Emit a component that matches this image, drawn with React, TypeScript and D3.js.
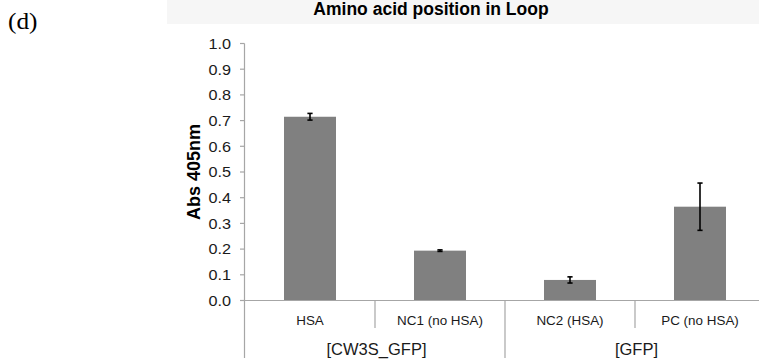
import React from "react";
import * as d3 from "d3";

const categories = ["HSA", "NC1 (no HSA)", "NC2 (HSA)", "PC (no HSA)"];
const values = [0.715, 0.194, 0.08, 0.365];
const errors = [0.013, 0.003, 0.012, 0.092];
const groupNames = ["[CW3S_GFP]", "[GFP]"];
const groupSizes = [2, 2];
const yTicks = [0, 0.1, 0.2, 0.3, 0.4, 0.5, 0.6, 0.7, 0.8, 0.9, 1.0];
const titleText = "Amino acid position in Loop";
const yTitle = "Abs 405nm";
const panelLabel = "(d)";

export default function App() {
  const W = 759;
  const H = 359;
  const axisX = 244.5;
  const x = d3.scaleBand<string>().domain(categories).range([245, 765]).paddingInner(0).paddingOuter(0);
  const y = d3.scaleLinear().domain([0, 1]).range([300.5, 43.5]);
  const bw = x.bandwidth();
  const barW = bw * 0.4;
  const fmt = d3.format(".1f");
  const axisColor = "#a6a6a6";
  const textColor = "#1a1a1a";
  const font = "Arial, 'Liberation Sans', sans-serif";

  const groupStarts: number[] = [];
  let acc = 0;
  groupSizes.forEach((s) => {
    groupStarts.push(acc);
    acc += s;
  });

  const boundaries: { x: number; full: boolean }[] = [];
  for (let i = 1; i < categories.length; i++) {
    const xb = x(categories[i]) as number;
    const full = groupStarts.includes(i);
    boundaries.push({ x: xb, full });
  }

  return (
    <svg width={W} height={H} style={{ position: "absolute", left: 0, top: 0 }} xmlns="http://www.w3.org/2000/svg">
      <rect x={0} y={0} width={W} height={H} fill="#ffffff" />
      <rect x={167} y={0} width={W - 167} height={24} fill="#f6f6f6" />
      <text x={431} y={15} textAnchor="middle" fontFamily={font} fontWeight="bold" fontSize={17.5} fill="#000">
        {titleText}
      </text>
      <text transform="translate(8,28.5) scale(1.1,1)" fontFamily="'Liberation Serif', 'Times New Roman', serif" fontSize={23} fill="#000">
        {panelLabel}
      </text>

      <text
        transform={`translate(200,${(y(0) + y(1)) / 2}) rotate(-90)`}
        textAnchor="middle"
        fontFamily={font}
        fontWeight="bold"
        fontSize={18}
        fill="#000"
      >
        {yTitle}
      </text>

      {categories.map((c, i) => {
        const bx = (x(c) as number) + (bw - barW) / 2;
        return <rect key={c} x={bx} y={y(values[i])} width={barW} height={y(0) - y(values[i])} fill="#808080" />;
      })}

      <line x1={axisX} x2={axisX} y1={y(1)} y2={358} stroke={axisColor} strokeWidth={1.2} />
      <line x1={240} x2={765} y1={y(0)} y2={y(0)} stroke={axisColor} strokeWidth={1.2} />
      {yTicks.map((t) => (
        <g key={t}>
          <line x1={240} x2={axisX} y1={y(t)} y2={y(t)} stroke={axisColor} strokeWidth={1.2} />
          <text
            transform={`translate(231,${y(t) + 5.3}) scale(1.08,1)`}
            textAnchor="end"
            fontFamily={font}
            fontSize={15}
            fill={textColor}
          >
            {fmt(t)}
          </text>
        </g>
      ))}
      {boundaries.map((b, i) => (
        <line key={i} x1={b.x} x2={b.x} y1={y(0)} y2={b.full ? 358 : 328} stroke={axisColor} strokeWidth={1.2} />
      ))}

      {categories.map((c, i) => {
        const cx = (x(c) as number) + bw / 2;
        const top = y(values[i] + errors[i]);
        const bot = y(values[i] - errors[i]);
        return (
          <g key={c} stroke="#000" strokeWidth={1.6}>
            <line x1={cx} x2={cx} y1={top} y2={bot} />
            <line x1={cx - 2.6} x2={cx + 2.6} y1={top} y2={top} />
            <line x1={cx - 2.6} x2={cx + 2.6} y1={bot} y2={bot} />
          </g>
        );
      })}

      {categories.map((c) => (
        <text
          key={c}
          transform={`translate(${(x(c) as number) + bw / 2},325) scale(1.12,1)`}
          textAnchor="middle"
          fontFamily={font}
          fontSize={12}
          fill={textColor}
        >
          {c}
        </text>
      ))}

      {groupNames.map((g, gi) => {
        const first = categories[groupStarts[gi]];
        const last = categories[groupStarts[gi] + groupSizes[gi] - 1];
        const gx = ((x(first) as number) + (x(last) as number) + bw) / 2;
        return (
          <text key={g} x={gx + 1.5} y={355} textAnchor="middle" fontFamily={font} fontSize={16.5} fill={textColor}>
            {g}
          </text>
        );
      })}
    </svg>
  );
}
